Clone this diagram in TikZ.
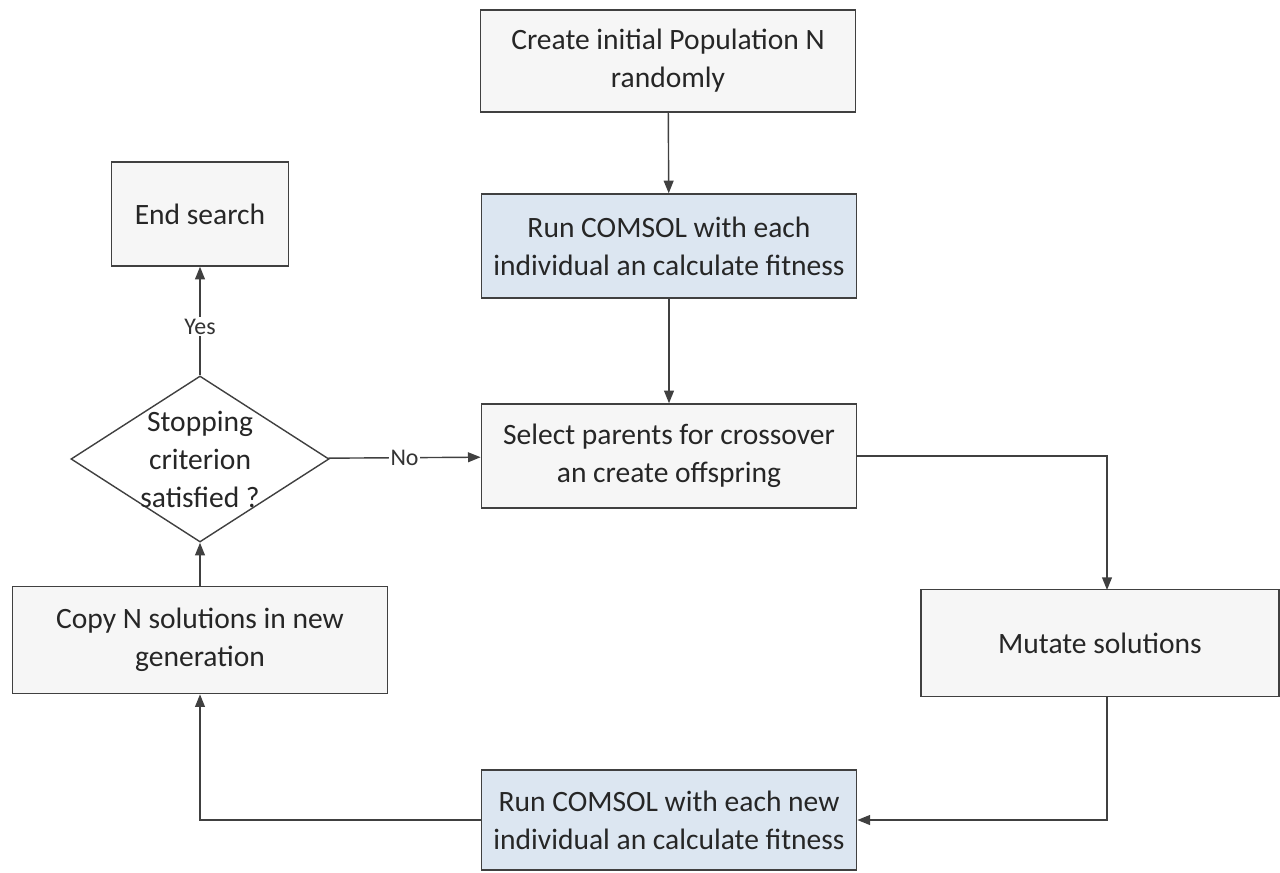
\documentclass[tikz,border=0pt]{standalone}
\usepackage{fontspec}
\setmainfont{Carlito}
\usetikzlibrary{shapes.geometric,arrows.meta}
\definecolor{linegray}{HTML}{404040}
\definecolor{boxgray}{HTML}{F6F6F6}
\definecolor{runblue}{HTML}{DCE6F1}
\begin{document}
\begin{tikzpicture}
[x=0.025cm,y=-0.025cm,
  boxdecorate/.style={shape=rectangle,draw=linegray,line width=1pt,fill=boxgray,
    minimum width=9.38cm,minimum height=2.6cm,align=center,
    font=\fontsize{21}{27}\selectfont,text=black!85},
  rundecorate/.style={boxdecorate,fill=runblue},
  decisiondecorate/.style={shape=diamond,draw=linegray,line width=1pt,fill=white,
    inner sep=0pt,minimum width=6.45cm,minimum height=4.15cm},
  linedecorate/.style={-{Triangle[length=9pt,width=7pt]},draw=linegray,line width=1pt},
  labeldecorate/.style={fill=white,inner sep=1pt,font=\fontsize{17}{20}\selectfont,text=black!80}]
\useasboundingbox (0,0) rectangle (1280,873);
%% nodes or boxes
\node (create) at (668,61) [boxdecorate,minimum height=2.55cm] {Create initial Population N\\randomly};
\node (runa) at (669,246) [rundecorate] {Run COMSOL with each\\individual an calculate fitness};
\node (select) at (669,456) [boxdecorate] {Select parents for crossover\\an create offspring};
\node (endsearch) at (200,214) [boxdecorate,minimum width=4.43cm] {End search};
\node (stop) at (200,459) [decisiondecorate,
  label={[align=center,font=\fontsize{21}{27}\selectfont,text=black!85]center:Stopping\\criterion\\satisfied ?}] {};
\node (copy) at (200,640) [boxdecorate,minimum height=2.68cm] {Copy N solutions in new\\generation};
\node (mutate) at (1100,643) [boxdecorate,minimum width=8.95cm,minimum height=2.68cm] {Mutate solutions};
\node (runb) at (669,820) [rundecorate,minimum height=2.5cm] {Run COMSOL with each new\\individual an calculate fitness};
%% bend points
\coordinate (mutin) at (1107,590);
\coordinate (mutout) at (1107,697);
%% edges or lines
\path
\foreach \startnode/\endnode in {create/runa, runa/select, copy/stop} {
  (\startnode) edge[linedecorate] (\endnode)
};
\draw[linedecorate] (stop) -- node[labeldecorate] {No} (select);
\draw[linedecorate] (stop) -- node[labeldecorate,pos=0.45] {Yes} (endsearch);
\draw[linedecorate] (select.east) -| (mutin);
\draw[linedecorate] (mutout) |- (runb.east);
\draw[linedecorate] (runb.west) -| (copy.south);
\end{tikzpicture}
\end{document}
